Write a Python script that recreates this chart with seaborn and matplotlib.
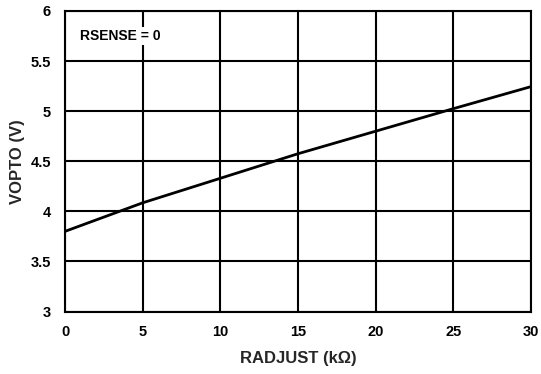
import matplotlib
matplotlib.use("Agg")
import matplotlib.pyplot as plt
import seaborn as sns
import pandas as pd

radjust = [0, 5, 10, 15, 20, 25, 30]
vopto = [3.80, 4.085, 4.33, 4.575, 4.80, 5.025, 5.245]
xticks = [0, 5, 10, 15, 20, 25, 30]
yticks = [3, 3.5, 4, 4.5, 5, 5.5, 6]
ytick_labels = ["3", "3.5", "4", "4.5", "5", "5.5", "6"]

sns.set_theme(style="white")
plt.rcParams['font.family'] = ['Liberation Sans', 'DejaVu Sans']

fig = plt.figure(figsize=(5.41, 3.74), dpi=100)
ax = fig.add_axes([65/541, 1-311.5/374, (531-65)/541, (311.5-11)/374])

df = pd.DataFrame({"RADJUST": radjust, "VOPTO": vopto})
sns.lineplot(data=df, x="RADJUST", y="VOPTO", ax=ax, color="black", linewidth=2.0, zorder=3)

ax.set_xlim(0, 30)
ax.set_ylim(3, 6)
ax.set_xticks(xticks)
ax.set_yticks(yticks)
ax.set_yticklabels(ytick_labels)
ax.grid(True, color="black", linewidth=1.5)
ax.set_axisbelow(True)
for s in ax.spines.values():
    s.set_color("black")
    s.set_linewidth(1.5)
ax.tick_params(axis="both", length=0, labelsize=10.5, colors="black")
ax.tick_params(axis="x", pad=10)
ax.tick_params(axis="y", pad=10)
for lab in ax.get_xticklabels() + ax.get_yticklabels():
    lab.set_fontweight("bold")

ax.set_xlabel("RADJUST (kΩ)", fontsize=12, fontweight="bold", labelpad=8)
ax.set_ylabel("VOPTO (V)", fontsize=12, fontweight="bold", labelpad=4)

ax.text(0.95, 5.75, "RSENSE = 0", fontsize=10, fontweight="bold", color="black",
        va="center", ha="left", zorder=4,
        bbox=dict(facecolor="white", edgecolor="none", pad=1.5))

fig.savefig("out.png", dpi=100)
